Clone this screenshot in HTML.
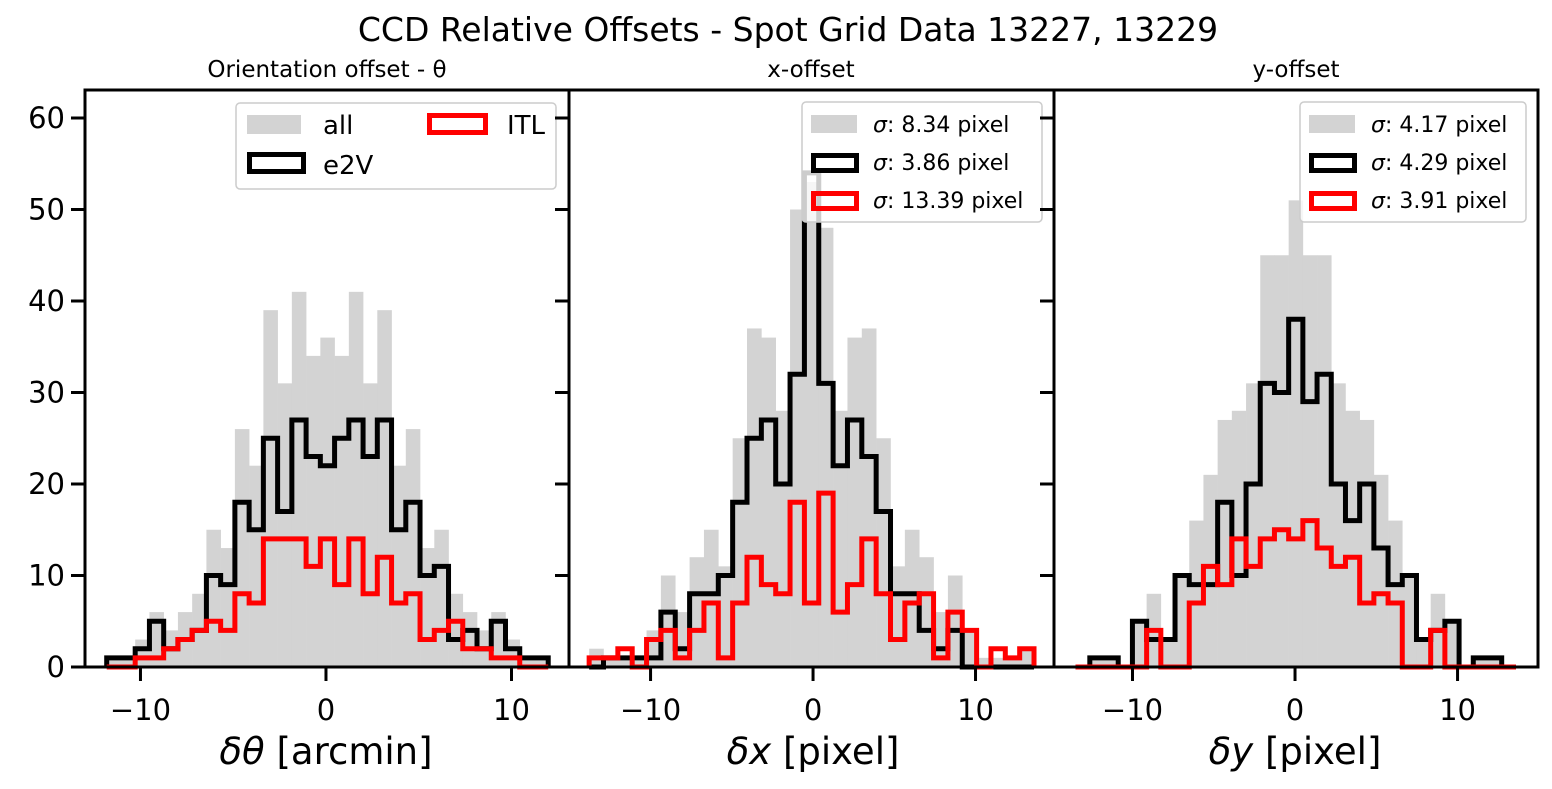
<!DOCTYPE html>
<html><head><meta charset="utf-8">
<style>
html,body{margin:0;padding:0;background:#fff;}
svg{display:block;font-family:"DejaVu Sans","Liberation Sans",sans-serif;}
</style></head>
<body>
<svg id="chart" width="1552" height="789" viewBox="0 0 1552 789" xmlns="http://www.w3.org/2000/svg">
<text x="788" y="41" font-size="33" text-anchor="middle">CCD Relative Offsets - Spot Grid Data 13227, 13229</text>
<g id="plots"></g>
</svg>
<script>
// ---- data (31 bins per panel) ----
const thetaAll = [1,1,3,6,4,6,8,15,13,26,22,39,31,41,34,36,34,41,31,39,22,26,13,15,8,6,4,6,3,1,1];
const thetaE2V = [1,1,2,5,2,3,4,10,9,18,15,25,17,27,23,22,25,27,23,27,15,18,10,11,3,4,2,5,2,1,1];
const thetaITL = [0,0,1,1,2,3,4,5,4,8,7,14,14,14,11,14,9,14,8,12,7,8,3,4,5,2,2,1,1,0,0];
const xAll = [2,1,1,1,4,10,6,12,15,11,25,37,36,28,50,53,48,28,36,37,25,11,15,12,6,10,4,1,1,1,2];
const xE2V = [0,1,1,1,1,6,2,8,8,10,18,25,27,20,32,54,31,22,27,23,17,8,8,4,2,4,0,0,0,0,0];
const xITL = [1,1,2,0,3,4,1,4,7,1,7,12,9,8,18,7,19,6,9,14,8,3,7,8,1,6,4,0,2,1,2];
const yAll = [0,1,1,0,5,8,3,10,16,21,27,28,31,45,45,51,45,45,31,28,27,21,16,10,3,8,5,0,1,1,0];
const yE2V = [0,1,1,0,5,3,3,10,9,9,18,10,20,31,30,38,29,32,20,16,20,13,9,10,3,4,5,0,1,1,0];
const yITL = [0,0,0,0,0,4,0,0,7,11,9,14,11,14,15,14,16,13,11,12,7,8,7,0,0,4,0,0,0,0,0];
const yTicks = [0,10,20,30,40,50,60];
const xTicks = [-10,0,10];

const panels = [
  {name:'theta',left:85,right:569,xmin:-12.99,xmax:13.1,b0:-11.82,b1:11.98,all:thetaAll,e2v:thetaE2V,itl:thetaITL,
   title:'Orientation offset -  θ',titleX:327,xlabel:'δθ [arcmin]'},
  {name:'x',left:569,right:1054,xmin:-15.02,xmax:14.83,b0:-13.78,b1:13.6,all:xAll,e2v:xE2V,itl:xITL,
   title:'x-offset',titleX:811,xlabel:'δx [pixel]',sig:['8.34','3.86','13.39'],legL:802},
  {name:'y',left:1054,right:1538,xmin:-14.83,xmax:14.95,b0:-13.5,b1:13.59,all:yAll,e2v:yE2V,itl:yITL,
   title:'y-offset',titleX:1296,xlabel:'δy [pixel]',sig:['4.17','4.29','3.91'],legL:1300}
];
const TOP=90, BOT=667, YMAX=63.06;
const NS='http://www.w3.org/2000/svg';
const root=document.getElementById('plots');
function mk(tag,attrs,parent){const e=document.createElementNS(NS,tag);for(const k in attrs)e.setAttribute(k,attrs[k]);(parent||root).appendChild(e);return e;}
function yS(v){return BOT-(v/YMAX)*(BOT-TOP);}

panels.forEach((p,pi)=>{
  const xS=v=>p.left+(v-p.xmin)/(p.xmax-p.xmin)*(p.right-p.left);
  const g=mk('g',{});
  
  
  const n=p.all.length, w=(p.b1-p.b0)/n;
  p.all.forEach((c,i)=>{
    if(c<=0)return;
    const x0=xS(p.b0+i*w), x1=xS(p.b0+(i+1)*w);
    const r=mk('rect',{x:x0,y:yS(c),width:x1-x0+0.3,height:BOT-yS(c),fill:'#d3d3d3'},g);
    
    
  });
  function step(arr,col,nm){
    let d='M'+xS(p.b0)+','+yS(0);
    arr.forEach((c,i)=>{d+=' L'+xS(p.b0+i*w)+','+yS(c)+' L'+xS(p.b0+(i+1)*w)+','+yS(c);});
    d+=' L'+xS(p.b1)+','+yS(0);
    const pa=mk('path',{d:d,fill:'none',stroke:col,'stroke-width':5,'stroke-linejoin':'miter'},g);
    
    
  }
  step(p.e2v,'#000','step-e2v-'+p.name);
  step(p.itl,'#ff0000','step-itl-'+p.name);
  const fr=mk('rect',{x:p.left,y:TOP,width:p.right-p.left,height:BOT-TOP,fill:'none',stroke:'#000','stroke-width':3},g);
  
  
  yTicks.forEach(t=>{
    const tk=mk('line',{x1:p.left-14,x2:p.left,y1:yS(t),y2:yS(t),stroke:'#000','stroke-width':3},g);
    
    
    if(pi===0){
      const tl=mk('text',{x:p.left-20,y:yS(t)+10,'font-size':29,'text-anchor':'end'},g);
      tl.textContent=t;
      
      
    }
  });
  xTicks.forEach(t=>{
    const tk=mk('line',{x1:xS(t),x2:xS(t),y1:BOT,y2:BOT+14,stroke:'#000','stroke-width':3},g);
    
    
    const tl=mk('text',{x:xS(t),y:720,'font-size':29,'text-anchor':'middle'},g);
    tl.textContent=(t<0?'\u2212'+(-t):t);
    
    
  });
  const xl=mk('text',{x:xS(0),y:764,'font-size':37,'text-anchor':'middle'},g);
  xl.innerHTML='<tspan font-style="italic">'+p.xlabel.split(' ')[0]+'</tspan> '+p.xlabel.split(' ')[1];
  
  
  const st=mk('text',{x:p.titleX,y:77,'font-size':23,'text-anchor':'middle'},g);
  st.textContent=p.title;
  
  
  const lg=mk('g',{},g);
  
  
  if(pi===0){
    mk('rect',{x:236,y:103,width:320,height:86,rx:4,fill:'rgba(255,255,255,0.8)',stroke:'#ccc','stroke-width':1.5},lg);
    const items=[[247,115,'all','gray',323,134],[247,152,'e2V','#000',323,174],[427,113,'ITL','#ff0000',507,134]];
    items.forEach(it=>{
      const e=mk('g',{},lg);
      
      
      if(it[3]==='gray') mk('rect',{x:it[0],y:it[1],width:54,height:19,fill:'#d3d3d3'},e);
      else mk('rect',{x:it[0]+2.5,y:it[1]+2.5,width:it[3]==='#000'?54:56,height:17,fill:'none',stroke:it[3],'stroke-width':5},e);
      const t=mk('text',{x:it[4],y:it[5],'font-size':26},e);t.textContent=it[2];
    });
  } else {
    const L=p.legL;
    mk('rect',{x:L,y:102,width:p.right-12-L,height:120,rx:4,fill:'rgba(255,255,255,0.8)',stroke:'#ccc','stroke-width':1.5},lg);
    const cols=['gray','#000','#ff0000'];
    cols.forEach((c,k)=>{
      const e=mk('g',{},lg);
      
      
      const yy=115+k*38;
      if(c==='gray') mk('rect',{x:L+9,y:yy,width:46,height:18,fill:'#d3d3d3'},e);
      else mk('rect',{x:L+11.5,y:yy+2.5,width:43,height:15,fill:'none',stroke:c,'stroke-width':5},e);
      const t=mk('text',{x:L+71,y:yy+17,'font-size':22},e);
      t.innerHTML='<tspan font-style="italic">σ</tspan>: '+p.sig[k]+' pixel';
    });
  }
});
</script>
</body></html>
